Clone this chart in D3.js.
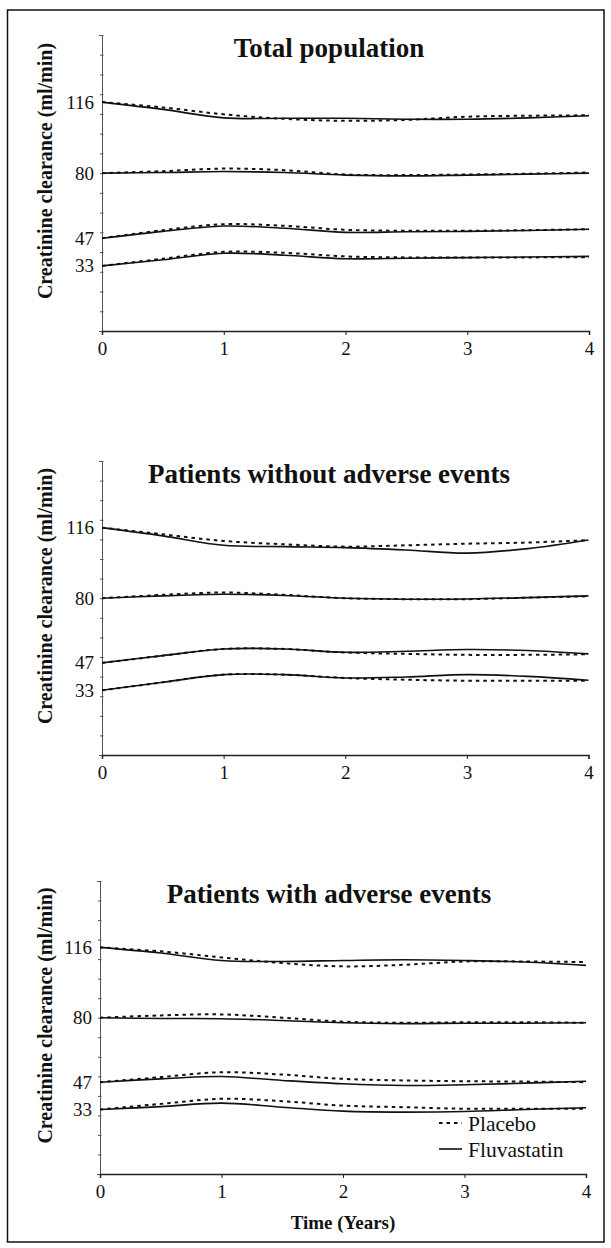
<!DOCTYPE html>
<html>
<head>
<meta charset="utf-8">
<script src="https://cdn.jsdelivr.net/npm/d3@7"></script>
<style>
  html, body { margin: 0; padding: 0; background: #fff; }
  svg { display: block; }
  text { font-family: "Liberation Serif", "Times New Roman", serif; fill: #111; }
</style>
</head>
<body>
<svg id="chart" width="611" height="1248"></svg>
<script>
// Time points (years) at which every curve is sampled
const years = [0, 0.5, 1, 1.5, 2, 2.5, 3, 3.5, 4];
const xTicks = [0, 1, 2, 3, 4];
const yLabelTicks = [33, 47, 80, 116];
const yMinorTicks = d3.range(0, 151, 10);
const panelTitles = ["Total population", "Patients without adverse events", "Patients with adverse events"];
const seriesNames = ["Placebo", "Fluvastatin"];

// Creatinine clearance (ml/min), one row per baseline stratum: 116, 80, 47, 33
const totalPlacebo = [
  [116, 113.3, 109.8, 107.5, 106.5, 107.0, 108.6, 109.1, 109.3],
  [80, 81.0, 82.3, 81.5, 79.3, 79.0, 79.3, 79.7, 80.3],
  [47, 51.1, 54.1, 53.3, 51.3, 50.8, 50.8, 51.1, 51.6],
  [33, 36.6, 40.1, 39.6, 37.8, 37.3, 37.3, 37.3, 37.4]
];
const totalFluvastatin = [
  [116, 112.3, 108.0, 107.8, 107.8, 107.3, 107.3, 108.0, 109.1],
  [80, 80.3, 80.8, 80.3, 79.0, 78.6, 79.0, 79.5, 80.0],
  [47, 50.5, 53.2, 52.1, 50.0, 50.3, 50.5, 50.9, 51.6],
  [33, 36.1, 39.4, 38.4, 36.6, 36.9, 37.2, 37.5, 37.8]
];
const noAePlacebo = [
  [116, 112.6, 109.2, 107.5, 106.3, 107.0, 107.8, 108.4, 109.6],
  [80, 81.7, 82.9, 81.7, 80.0, 79.5, 79.5, 80.3, 81.0],
  [47, 50.7, 54.1, 54.1, 52.3, 51.6, 51.1, 51.1, 51.4],
  [33, 37.1, 41.0, 41.0, 39.3, 38.4, 37.9, 37.9, 37.9]
];
const noAeFluvastatin = [
  [116, 111.8, 107.0, 106.3, 105.8, 104.6, 103.0, 105.3, 109.7],
  [80, 81.2, 82.0, 81.4, 80.0, 79.5, 79.6, 80.3, 81.2],
  [47, 50.7, 54.1, 54.1, 52.4, 52.9, 53.8, 53.3, 51.6],
  [33, 37.1, 41.0, 41.0, 39.3, 39.8, 41.0, 40.1, 38.1]
];
const aePlacebo = [
  [116, 114.0, 110.9, 108.0, 106.3, 107.1, 108.8, 108.8, 108.5],
  [80, 81.2, 81.7, 80.0, 78.0, 77.4, 77.7, 77.7, 77.4],
  [47, 49.6, 52.1, 50.9, 48.7, 47.9, 47.5, 47.3, 47.0],
  [33, 35.9, 38.5, 37.3, 35.0, 34.2, 33.4, 33.4, 33.4]
];
const aeFluvastatin = [
  [116, 113.1, 109.3, 108.8, 109.3, 109.7, 109.3, 108.5, 106.8],
  [80, 79.6, 79.5, 78.6, 77.4, 77.0, 77.2, 77.2, 77.4],
  [47, 48.7, 49.9, 47.9, 46.2, 45.3, 45.7, 46.5, 47.5],
  [33, 34.5, 36.3, 34.2, 32.2, 31.7, 32.0, 33.0, 33.9]
];

const panels = [
  { title: panelTitles[0], placebo: totalPlacebo, fluva: totalFluvastatin, left: 102, right: 589, top: 35, bottom: 331 },
  { title: panelTitles[1], placebo: noAePlacebo, fluva: noAeFluvastatin, left: 102, right: 588.5, top: 461, bottom: 755 },
  { title: panelTitles[2], placebo: aePlacebo, fluva: aeFluvastatin, left: 100, right: 586, top: 881, bottom: 1174, xTitle: "Time (Years)", legend: true }
];

const svg = d3.select("#chart");

// outer frame
svg.append("rect")
  .attr("x", 7.5).attr("y", 10)
  .attr("width", 596.5).attr("height", 1232)
  .attr("fill", "none").attr("stroke", "#111").attr("stroke-width", 1.5);

const dash = "3.5,4";
const serif = "'Liberation Serif', 'Times New Roman', serif";

panels.forEach(p => {
  const x = d3.scaleLinear().domain([0, 4]).range([p.left, p.right]);
  const y = d3.scaleLinear().domain([0, 150]).range([p.bottom, p.top]);
  const g = svg.append("g");

  // y axis: minor ticks every 10
  const yMinor = g.append("g")
    .attr("transform", `translate(${p.left},0)`)
    .call(d3.axisLeft(y).tickValues(yMinorTicks).tickSize(3).tickFormat(""));
  yMinor.select(".domain").attr("stroke", "#555").attr("stroke-width", 1);
  yMinor.selectAll(".tick line").attr("stroke", "#555").attr("x1", -2).attr("x2", 1.5);

  // y axis: stratum labels
  const yLab = g.append("g")
    .attr("transform", `translate(${p.left},0)`)
    .call(d3.axisLeft(y).tickValues(yLabelTicks).tickSize(0).tickPadding(8));
  yLab.select(".domain").remove();
  yLab.selectAll("text")
    .attr("font-size", 19)
    .style("font-family", serif)
    .attr("fill", "#111");

  // x axis
  const xAx = g.append("g")
    .attr("transform", `translate(0,${p.bottom})`)
    .call(d3.axisBottom(x).tickValues(xTicks).tickSize(4).tickPadding(7).tickFormat(d3.format("d")));
  xAx.select(".domain").attr("stroke", "#222").attr("stroke-width", 1.5);
  xAx.selectAll(".tick line").attr("stroke", "#222");
  xAx.selectAll("text")
    .attr("font-size", 19)
    .style("font-family", serif)
    .attr("fill", "#111");

  // panel title
  g.append("text")
    .attr("x", 329).attr("y", p.top + 22)
    .attr("text-anchor", "middle")
    .style("font-family", serif)
    .attr("font-size", 27).attr("font-weight", "bold")
    .text(p.title);

  // y axis title
  const yc = (p.top + p.bottom) / 2 - 12;
  g.append("text")
    .attr("transform", `translate(45,${yc}) rotate(-90)`)
    .attr("text-anchor", "middle")
    .attr("dominant-baseline", "central")
    .style("font-family", serif)
    .attr("font-size", 20).attr("font-weight", "bold")
    .text("Creatinine clearance (ml/min)");

  const line = d3.line()
    .x((d, i) => x(years[i]))
    .y(d => y(d))
    .curve(d3.curveCatmullRom.alpha(0.5));

  g.append("g").selectAll("path")
    .data(p.placebo).join("path")
    .attr("d", line)
    .attr("fill", "none").attr("stroke", "#111")
    .attr("stroke-width", 2).attr("stroke-dasharray", dash);

  g.append("g").selectAll("path")
    .data(p.fluva).join("path")
    .attr("d", line)
    .attr("fill", "none").attr("stroke", "#111")
    .attr("stroke-width", 1.6);

  if (p.xTitle) {
    g.append("text")
      .attr("x", (p.left + p.right) / 2).attr("y", p.bottom + 55)
      .attr("text-anchor", "middle")
      .style("font-family", serif)
      .attr("font-size", 19).attr("font-weight", "bold")
      .text(p.xTitle);
  }

  if (p.legend) {
    const lg = g.append("g").attr("transform", "translate(439,1123)");
    seriesNames.forEach((name, i) => {
      const row = lg.append("g").attr("transform", `translate(0,${i * 26})`);
      row.append("line")
        .attr("x1", 0).attr("x2", 23).attr("y1", 0).attr("y2", 0)
        .attr("stroke", "#111")
        .attr("stroke-width", i === 0 ? 2 : 1.6)
        .attr("stroke-dasharray", i === 0 ? dash : null);
      row.append("text")
        .attr("x", 29).attr("y", 0)
        .attr("dy", "0.35em")
        .style("font-family", serif)
        .attr("font-size", 21.5)
        .text(name);
    });
  }
});
</script>
</body>
</html>
